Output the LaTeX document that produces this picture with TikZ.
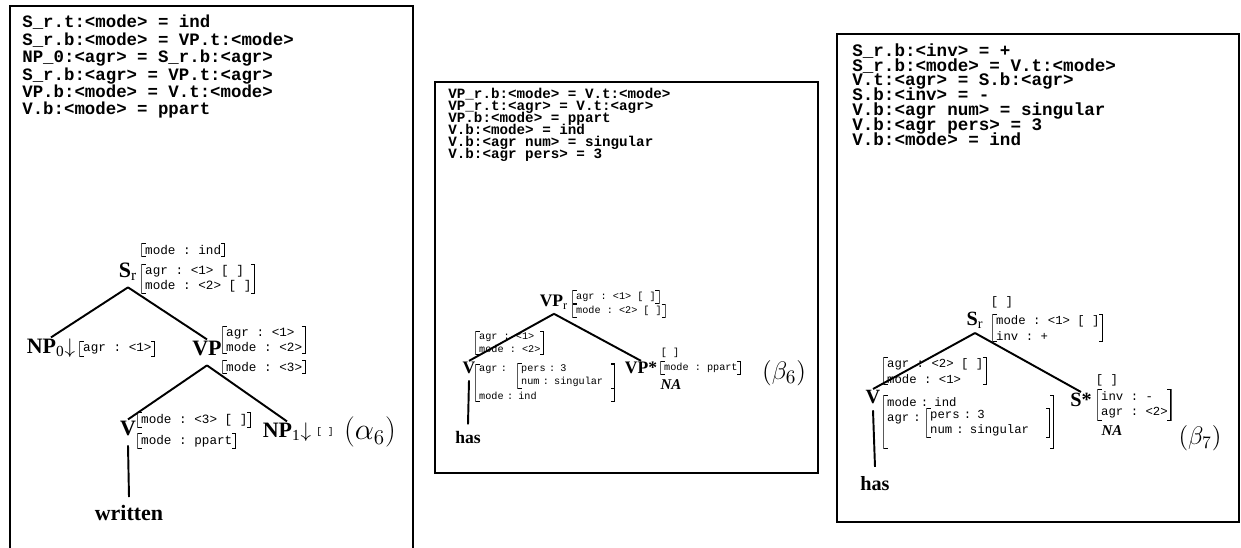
\documentclass[tikz,border=0pt]{standalone}
\usepackage{fontspec}
\setmainfont{Liberation Serif}
\setmonofont{Liberation Mono}
\usepackage{tikz}
\usetikzlibrary{positioning}
\setlength{\lineskiplimit}{-20pt}
\tikzset{
  frame/.style={draw=black, line width=1.2pt},
  eqs/.style={anchor=north west, align=left, inner sep=0pt},
  branch/.style={draw=black, line width=1.1pt},
  fs/.style={anchor=west, align=left, inner xsep=2.2pt, inner ysep=1.3pt,
    path picture={
      \draw[line width=0.6pt]
        ([shift={(2.4pt,-0.3pt)}]path picture bounding box.north west)
          -| ([shift={(0.3pt,0.3pt)}]path picture bounding box.south west) -- ++(2.1pt,0pt)
        ([shift={(-2.4pt,-0.3pt)}]path picture bounding box.north east)
          -| ([shift={(-0.3pt,0.3pt)}]path picture bounding box.south east) -- ++(-2.1pt,0pt);
    }},
  fsA/.style={fs, font=\fontsize{7.2}{8.3}\selectfont\ttfamily},
  fsB/.style={fs, font=\fontsize{5.8}{7.4}\selectfont\ttfamily},
  fsC/.style={fs, font=\fontsize{7}{8.7}\selectfont\ttfamily},
  catA/.style={inner sep=0.5pt, font=\fontsize{12.5}{14}\selectfont\bfseries},
  catB/.style={inner sep=0.5pt, font=\fontsize{10}{12}\selectfont\bfseries},
  catC/.style={inner sep=0.5pt, font=\fontsize{11.5}{13}\selectfont\bfseries},
  nilA/.style={inner sep=0pt, font=\fontsize{5.5}{6}\selectfont\ttfamily},
  nilB/.style={inner sep=0pt, font=\fontsize{5.8}{6}\selectfont\ttfamily},
  nilC/.style={inner sep=0pt, font=\fontsize{7}{8}\selectfont\ttfamily},
  na/.style={inner sep=0pt, font=\fontsize{8.5}{9}\selectfont\bfseries\itshape},
}
\newcommand{\lo}[1]{\textsubscript{\mdseries #1}}

\begin{document}
\begin{tikzpicture}[x=0.2mm,y=-0.2mm]
  \useasboundingbox (0,0) rectangle (1241,548);

  % frames
  \draw[frame] (10,548) -- (10,6) -- (413,6) -- (413,548);
  \draw[frame] (435,82) rectangle (818,473);
  \draw[frame] (837,34) rectangle (1239,522);

  % equations
  \node[eqs, font=\fontsize{9.9}{9.9}\selectfont\ttfamily\bfseries] (eqa) at (22,15)
    {S\_r.t:<mode> = ind\\
     S\_r.b:<mode> = VP.t:<mode>\\
     NP\_0:<agr> = S\_r.b:<agr>\\
     S\_r.b:<agr> = VP.t:<agr>\\
     VP.b:<mode> = V.t:<mode>\\
     V.b:<mode> = ppart};
  \node[eqs, font=\fontsize{8.1}{6.8}\selectfont\ttfamily\bfseries] (eqb) at (448,88)
    {VP\_r.b:<mode> = V.t:<mode>\\
     VP\_r.t:<agr> = V.t:<agr>\\
     VP.b:<mode> = ppart\\
     V.b:<mode> = ind\\
     V.b:<agr num> = singular\\
     V.b:<agr pers> = 3};
  \node[eqs, font=\fontsize{10}{8.5}\selectfont\ttfamily\bfseries] (eqc) at (852,43)
    {S\_r.b:<inv> = +\\
     S\_r.b:<mode> = V.t:<mode>\\
     V.t:<agr> = S.b:<agr>\\
     S.b:<inv> = -\\
     V.b:<agr num> = singular\\
     V.b:<agr pers> = 3\\
     V.b:<mode> = ind};

  % alpha 6
  \node[catA] (s1) at (128,272) {S\lo{r}};
  \node[fsA] (s1t) at (141,250) {mode : ind};
  \node[fsA] (s1b) at (141,279) {agr : <1> [ ]\\mode : <2> [ ]};
  \node[catA] (np0) at (51,348) {NP\lo{0}$\downarrow$};
  \node[fsA] (np0f) at (79,349) {agr : <1>};
  \node[catA] (vp1) at (207,348) {VP};
  \node[fsA] (vp1t) at (222,340) {agr : <1>\\mode : <2>};
  \node[fsA] (vp1b) at (222,367) {mode : <3>};
  \node[catA] (v1) at (128,428) {V};
  \node[fsA] (v1t) at (137,420) {mode : <3> [ ]};
  \node[fsA] (v1b) at (137,441) {mode : ppart};
  \node[catA] (np1) at (287,432) {NP\lo{1}$\downarrow$};
  \node[nilA] (np1f) at (325,432) {[ ]};
  \node[font=\fontsize{17}{20}\selectfont] (a6) at (370,432) {$(\alpha_6)$};
  \node[catA] (w1) at (129,513) {written};
  \draw[branch] ([yshift=-3pt]s1.south) -- (np0.north);
  \draw[branch] ([yshift=-3pt]s1.south) -- (vp1.north);
  \draw[branch] ([yshift=-5pt]vp1.south) -- (v1.north);
  \draw[branch] ([yshift=-5pt]vp1.south) -- (np1.north);
  \draw[branch] ([yshift=-5pt]v1.south) -- ([yshift=4pt]w1.north);

  % beta 6
  \node[catB] (vpr2) at (554,302) {VP\lo{r}};
  \node[fsB] (vpr2t) at (572,297) {agr : <1> [ ]};
  \node[fsB] (vpr2b) at (572,311) {mode : <2> [ ]};
  \node[catB] (v2) at (469,368) {V};
  \node[fsB] (v2t) at (475,343) {agr : <1>\\mode : <2>};
  \node[fsB, text width=2.645cm] (v2b) at (475,383) {agr :\\[8.5pt]mode : ind};
  \node[fsB, text width=1.805cm] (v2n) at (517,376) {pers : 3\\num : singular};
  \node[catB] (vpf2) at (641,368) {VP*};
  \node[nilB] (vpf2e) at (670,353) {[ ]};
  \node[fsB] (vpf2f) at (660,368) {mode : ppart};
  \node[na] (vpf2na) at (671,385) {NA};
  \node[font=\fontsize{15}{18}\selectfont] (b6) at (784,373) {$(\beta_6)$};
  \node[catB] (has2) at (468,437) {has};
  \draw[branch] ([yshift=-2pt]vpr2.south) -- (v2.north);
  \draw[branch] ([yshift=-2pt]vpr2.south) -- (vpf2.north);
  \draw[branch] ([yshift=-3pt]v2.south) -- ([yshift=3pt]has2.north);

  % beta 7
  \node[catC] (s3) at (975,320) {S\lo{r}};
  \node[nilC] (s3e) at (1002,302) {[ ]};
  \node[fsC] (s3f) at (992,328) {mode : <1> [ ]\\inv : +};
  \node[catC] (v3) at (873,397) {V};
  \node[fsC] (v3t) at (883,371) {agr : <2> [ ]\\mode : <1>};
  \node[fsC, text width=3.265cm] (v3b) at (883,422) {mode : ind\\agr :\\[3pt]\strut};
  \node[fsC, text width=2.325cm] (v3n) at (926,423) {pers : 3\\num : singular};
  \node[catC] (sf3) at (1081,400) {S*};
  \node[nilC] (sf3e) at (1107,380) {[ ]};
  \node[fsC] (sf3f) at (1097,405) {inv : -\\agr : <2>};
  \node[na] (sf3na) at (1112,431) {NA};
  \node[font=\fontsize{13.6}{16}\selectfont] (b7) at (1200,438) {$(\beta_7)$};
  \node[catC] (has3) at (875,484) {has};
  \draw[branch] ([yshift=-2pt]s3.south) -- (v3.north);
  \draw[branch] ([yshift=-2pt]s3.south) -- (sf3.north);
  \draw[branch] ([yshift=-3pt]v3.south) -- ([yshift=5pt]has3.north);
\end{tikzpicture}
\end{document}
